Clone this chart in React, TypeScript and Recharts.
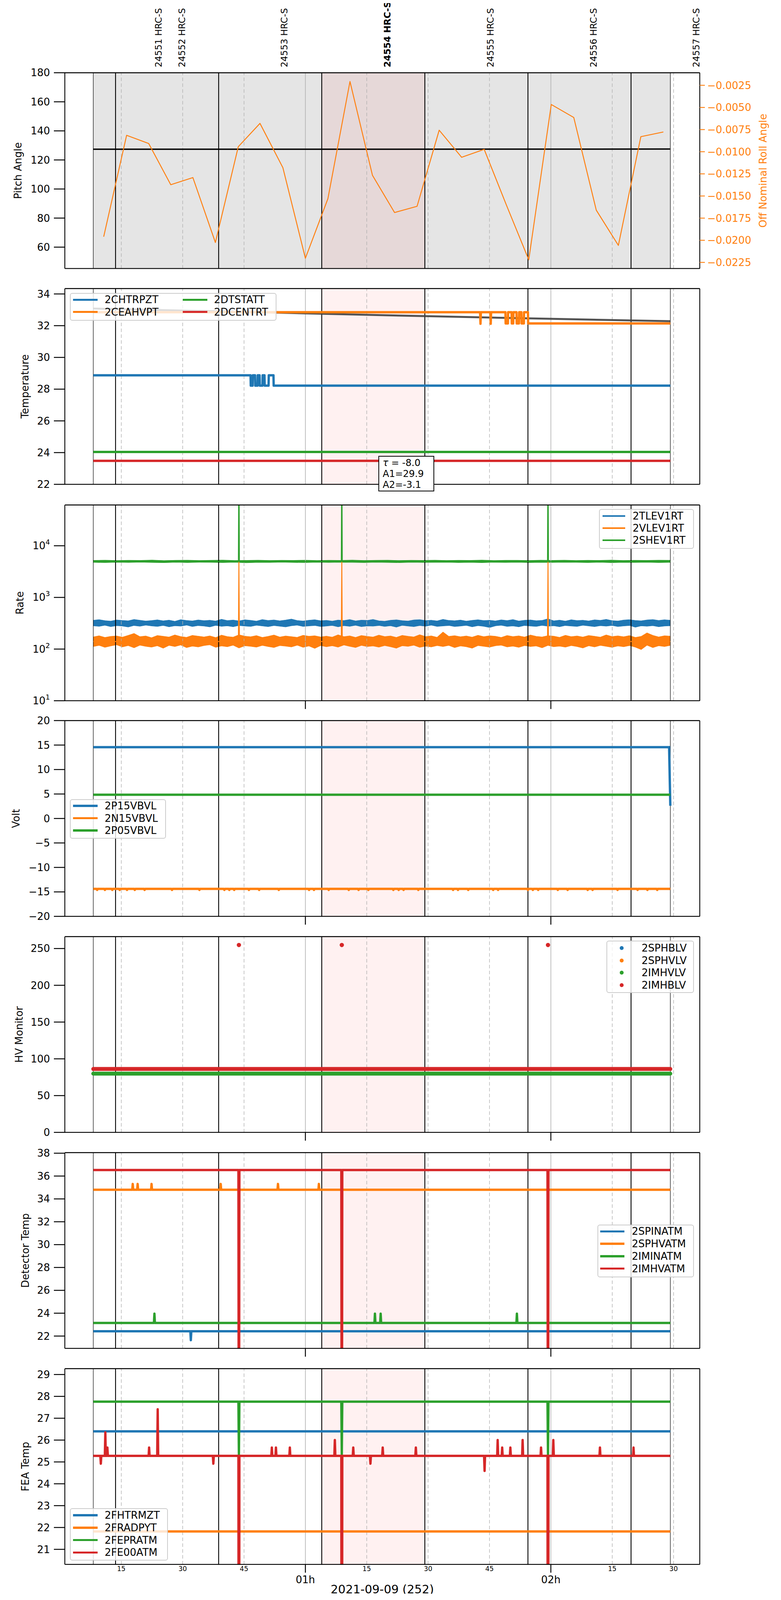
import React from 'react';
import { ComposedChart, Line, Area, Scatter, XAxis, YAxis, ReferenceLine, ReferenceArea } from 'recharts';

const FONT = '"DejaVu Sans", Verdana, sans-serif';
const FS = 26;
const BLUE = '#1f77b4';
const ORANGE = '#ff7f0e';
const GREEN = '#2ca02c';
const RED = '#d62728';

// ---------- time axis (minutes after 2021-09-09 00:00) ----------
const X_DOMAIN: [number, number] = [1.2, 156.4];
const T_START = 8.15;
const T_END = 149.2;
const EDGE_LINES = [8.15, 149.2];
const OBS_LINES = [13.6, 38.8, 64.0, 89.2, 114.4, 139.6];
const HOUR_LINES = [60, 120];
const QUARTER_LINES = [15, 30, 45, 75, 90, 105, 135, 150];
const HIGHLIGHT: [number, number] = [64.0, 89.2];
const OBS_LABEL_T = [24.1, 29.8, 54.8, 80.0, 105.2, 130.4, 155.5];
const OBS_LABELS = ['24551 HRC-S', '24552 HRC-S', '24553 HRC-S', '24554 HRC-S', '24555 HRC-S', '24556 HRC-S', '24557 HRC-S'];
const OBS_CURRENT = '24554 HRC-S';
const X_TICKS = [15, 30, 45, 60, 75, 90, 105, 120, 135, 150];
const X_TICK_LABELS = ['15', '30', '45', '01h', '15', '30', '45', '02h', '15', '30'];
const X_LABEL = '2021-09-09 (252)';
const SPIKE_HALF = 0.12;

// ---------- panel 1 : pitch / roll ----------
const PITCH: number[][] = [[8.15, 127.4], [40, 127.4], [80, 127.4], [120, 127.45], [149.2, 127.5]];
const ROLL_T = [10.7, 16.3, 21.7, 27.1, 32.5, 38.0, 43.6, 48.9, 54.5, 60.0, 65.5, 70.9, 76.4, 81.8, 87.3, 92.7, 98.2, 103.7, 109.2, 114.6, 120.1, 125.6, 131.1, 136.5, 142.0, 147.5];
const ROLL_V = [-0.0196, -0.00815, -0.00907, -0.01373, -0.01292, -0.02025, -0.00943, -0.0068, -0.0118, -0.02203, -0.01531, -0.00207, -0.01267, -0.01687, -0.01616, -0.00757, -0.01063, -0.00973, -0.0161, -0.0222, -0.00467, -0.00613, -0.0166, -0.02058, -0.0083, -0.00777];
const PITCH_DOMAIN: [number, number] = [45.3, 180];
const PITCH_TICKS = [60, 80, 100, 120, 140, 160, 180];
const ROLL_DOMAIN: [number, number] = [-0.02319, -0.00108];
const ROLL_TICKS = [-0.0025, -0.005, -0.0075, -0.01, -0.0125, -0.015, -0.0175, -0.02, -0.0225];

// ---------- panel 2 : temperature ----------
const T2_NAMES = ['2CHTRPZT', '2CEAHVPT', '2DTSTATT', '2DCENTRT'];
const CHTRPZT: number[][] = [[8.15, 28.87], [46.6, 28.87], [46.65, 28.22], [47.1, 28.22], [47.15, 28.87], [47.7, 28.87], [47.75, 28.22], [48.3, 28.22], [48.35, 28.87], [48.8, 28.87], [48.85, 28.22], [49.5, 28.22], [49.55, 28.87], [50.0, 28.87], [50.05, 28.22], [51.0, 28.22], [51.05, 28.87], [52.2, 28.87], [52.25, 28.22], [149.2, 28.22]];
const CEAHVPT: number[][] = [[8.15, 32.85], [102.7, 32.85], [102.8, 32.12], [102.9, 32.85], [105.2, 32.85], [105.3, 32.12], [105.4, 32.85], [108.9, 32.85], [108.95, 32.14], [109.5, 32.14], [109.55, 32.85], [110.4, 32.85], [110.45, 32.14], [110.8, 32.14], [110.85, 32.85], [111.6, 32.85], [111.65, 32.14], [112.2, 32.14], [112.25, 32.85], [112.8, 32.85], [112.85, 32.14], [113.4, 32.14], [113.45, 32.85], [114.4, 32.85], [114.45, 32.14], [149.2, 32.14]];
const DTSTATT = 24.04;
const DCENTRT = 23.48;
const FIT: number[][] = [[8.15, 33.08], [50, 32.84], [89.2, 32.6], [149.2, 32.28]];
const FIT_TEXT = ['-8.0', 'A1=29.9', 'A2=-3.1'];
const T2_DOMAIN: [number, number] = [22, 34.34];
const T2_TICKS = [22, 24, 26, 28, 30, 32, 34];

// ---------- panel 3 : rates ----------
const RATE_NAMES = ['2TLEV1RT', '2VLEV1RT', '2SHEV1RT'];
const TLEV_HI = [362, 371, 355, 348, 366, 359, 352, 374, 361, 349, 357, 368, 352, 363, 345, 371, 358, 350, 366, 355, 362, 349, 378, 356, 364, 351, 369, 360, 347, 372, 358, 366, 352, 364, 381, 357, 349, 362, 370, 354, 360, 347, 365, 357, 372, 351, 363, 359, 374, 352, 346, 361, 368, 355, 349, 366, 371, 357, 362, 350, 376, 359, 353, 364, 348, 360, 369, 356, 362, 351, 367, 356, 372, 349, 361, 366, 354, 359, 385, 352, 363, 348, 370, 357, 362, 351, 368, 360, 376, 355, 349, 364, 371, 358, 352, 366, 373, 358, 369, 361];
const TLEV_LO = [282, 276, 289, 272, 284, 279, 268, 286, 277, 290, 281, 274, 287, 270, 283, 278, 291, 273, 285, 279, 269, 288, 276, 282, 271, 286, 279, 274, 289, 280, 272, 285, 277, 268, 283, 290, 275, 281, 286, 273, 279, 287, 270, 284, 276, 289, 272, 281, 278, 286, 274, 283, 266, 288, 279, 272, 285, 277, 290, 275, 281, 286, 273, 279, 288, 270, 284, 276, 262, 282, 289, 275, 281, 270, 286, 279, 274, 288, 277, 283, 271, 286, 279, 275, 289, 281, 272, 284, 278, 287, 273, 280, 286, 265, 282, 277, 284, 271, 279, 283];
const VLEV_HI = [172, 181, 168, 176, 179, 170, 184, 201, 174, 179, 166, 183, 177, 171, 188, 175, 169, 184, 178, 172, 180, 167, 186, 175, 170, 189, 178, 173, 182, 168, 176, 187, 171, 179, 174, 169, 185, 177, 181, 172, 178, 170, 189, 174, 180, 168, 183, 176, 171, 186, 175, 179, 168, 184, 177, 172, 190, 175, 180, 169, 214, 176, 182, 173, 179, 170, 185, 174, 181, 177, 168, 183, 175, 180, 171, 187, 176, 172, 182, 178, 169, 185, 174, 179, 171, 183, 177, 170, 188, 175, 180, 173, 182, 168, 176, 206, 184, 172, 181, 178];
const VLEV_LO = [112, 118, 108, 115, 121, 110, 117, 106, 119, 113, 109, 116, 104, 118, 112, 120, 107, 114, 110, 117, 121, 108, 115, 111, 119, 105, 116, 113, 109, 118, 112, 107, 117, 114, 110, 119, 108, 115, 103, 117, 111, 116, 109, 120, 113, 107, 118, 112, 115, 109, 117, 111, 104, 116, 113, 119, 108, 114, 110, 117, 112, 118, 107, 115, 111, 104, 117, 113, 109, 116, 119, 110, 114, 108, 117, 112, 115, 106, 118, 111, 114, 109, 117, 112, 105, 116, 110, 118, 113, 108, 115, 111, 117, 109, 98, 119, 107, 116, 112, 118];
const SHEV_HI = [5210, 5260, 5180, 5240, 5200, 5280, 5170, 5230, 5250, 5190, 5220, 5270, 5180, 5210, 5250, 5190, 5240, 5200, 5260, 5180, 5230, 5210, 5270, 5190, 5220, 5250, 5180, 5240, 5200, 5260, 5190, 5230, 5210, 5270, 5180, 5240, 5220, 5190, 5250, 5210, 5260, 5180, 5230, 5200, 5270, 5190, 5240, 5210, 5250, 5220];
const SHEV_LO = [4760, 4720, 4790, 4740, 4810, 4750, 4700, 4780, 4730, 4800, 4760, 4720, 4790, 4680, 4770, 4740, 4810, 4750, 4720, 4790, 4740, 4800, 4760, 4730, 4780, 4750, 4710, 4790, 4740, 4770, 4800, 4730, 4760, 4710, 4780, 4750, 4790, 4720, 4770, 4740, 4800, 4760, 4730, 4780, 4710, 4770, 4750, 4790, 4730, 4760];
const VLEV_BASE = 140;
const VLEV_SPIKES: number[][] = [[43.75, 4900], [68.9, 4900], [119.3, 4900]];
const SHEV_BASE = 4950;
const SHEV_SPIKES: number[][] = [[43.75, 1000000], [68.9, 1000000], [119.3, 1000000]];
const RATE_DOMAIN: [number, number] = [10, 61600];
const RATE_TICKS = [10, 100, 1000, 10000];
const RATE_MINOR = [20, 30, 40, 50, 60, 70, 80, 90, 200, 300, 400, 500, 600, 700, 800, 900, 2000, 3000, 4000, 5000, 6000, 7000, 8000, 9000, 20000, 30000, 40000, 50000, 60000];

// ---------- panel 4 : voltages ----------
const VOLT_NAMES = ['2P15VBVL', '2N15VBVL', '2P05VBVL'];
const P15VBVL: number[][] = [[8.15, 14.56], [148.9, 14.56], [149.2, 2.6]];
const N15VBVL_BASE = -14.38;
const N15VBVL_DIPS: number[][] = [[9.1, -14.6], [11.0, -14.6], [12.8, -14.6], [14.6, -14.6], [16.4, -14.6], [18.3, -14.6], [20.7, -14.6], [27.4, -14.6], [34.1, -14.6], [40.2, -14.6], [41.4, -14.6], [42.6, -14.6], [46.2, -14.6], [48.7, -14.6], [53.5, -14.6], [60.9, -14.6], [62.1, -14.6], [65.7, -14.6], [70.6, -14.6], [73.0, -14.6], [75.4, -14.6], [81.5, -14.6], [82.8, -14.6], [84.0, -14.6], [87.6, -14.6], [96.1, -14.6], [97.3, -14.6], [99.8, -14.6], [105.9, -14.6], [107.1, -14.6], [114.4, -14.6], [115.6, -14.6], [116.9, -14.6], [121.7, -14.6], [124.1, -14.6], [129.0, -14.6], [130.2, -14.6], [136.3, -14.6], [141.2, -14.6], [143.6, -14.6], [146.0, -14.6]];
const P05VBVL = 4.86;
const VOLT_DOMAIN: [number, number] = [-20, 20];
const VOLT_TICKS = [-20, -15, -10, -5, 0, 5, 10, 15, 20];

// ---------- panel 5 : HV monitor ----------
const HV_NAMES = ['2SPHBLV', '2SPHVLV', '2IMHVLV', '2IMHBLV'];
const SPHBLV: number[][] = [];
const SPHVLV: number[][] = [];
const IMHVLV = 79.9;
const IMHBLV = 86.2;
const IMHBLV_OUTLIERS: number[][] = [[43.75, 254.8], [68.9, 254.8], [119.3, 254.8]];
const HV_DOMAIN: [number, number] = [0, 266.2];
const HV_TICKS = [0, 50, 100, 150, 200, 250];

// ---------- panel 6 : detector temperatures ----------
const DT_NAMES = ['2SPINATM', '2SPHVATM', '2IMINATM', '2IMHVATM'];
const SPINATM_BASE = 22.42;
const SPINATM_SPIKES: number[][] = [[32.0, 21.64]];
const SPHVATM_BASE = 34.8;
const SPHVATM_SPIKES: number[][] = [[17.8, 35.31], [19.0, 35.31], [22.4, 35.31], [39.3, 35.31], [53.3, 35.31], [63.3, 35.31]];
const IMINATM_BASE = 23.15;
const IMINATM_SPIKES: number[][] = [[23.1, 23.96], [77.0, 23.96], [78.4, 23.96], [111.7, 23.96]];
const IMHVATM_BASE = 36.53;
const IMHVATM_DROPS: number[][] = [[43.75, 0], [68.9, 0], [119.3, 0]];
const DT_DOMAIN: [number, number] = [20.92, 38.05];
const DT_TICKS = [22, 24, 26, 28, 30, 32, 34, 36, 38];

// ---------- panel 7 : FEA temperatures ----------
const FEA_NAMES = ['2FHTRMZT', '2FRADPYT', '2FEPRATM', '2FE00ATM'];
const FHTRMZT = 26.4;
const FRADPYT = 21.82;
const FEPRATM_BASE = 27.76;
const FEPRATM_DROPS: number[][] = [[43.75, 25.33], [68.9, 25.33], [119.3, 25.33]];
const FE00ATM_BASE = 25.28;
const FE00ATM_SPIKES: number[][] = [[10.0, 24.92], [11.1, 26.35], [11.6, 25.66], [21.8, 25.66], [23.9, 27.41], [37.5, 24.92], [51.8, 25.66], [52.8, 25.66], [56.2, 25.66], [67.2, 26.0], [71.7, 25.66], [75.9, 24.92], [78.9, 25.66], [87.0, 25.66], [103.8, 24.59], [107.0, 26.0], [108.1, 25.66], [110.1, 25.66], [113.1, 26.0], [117.6, 25.66], [120.6, 26.0], [132.0, 25.66], [140.2, 25.66]];
const FE00ATM_DROPS: number[][] = [[43.75, 0], [68.9, 0], [119.3, 0]];
const FEA_DOMAIN: [number, number] = [20.31, 29.27];
const FEA_TICKS = [21, 22, 23, 24, 25, 26, 27, 28, 29];

// ---------- layout (vertical positions in reference px, scaled to fit the captured page) ----------
const PAGE_W = 2000;
const PAGE_H = 4088;
const SY = PAGE_H / 5400;
const Y = (v: number) => Math.round(v * SY * 10) / 10;
const PANEL_TOP = [246, 976, 1707, 2437, 3167, 3898, 4628].map(Y);
const PANEL_H = Y(662);
const LEFT_W = 166;
const RIGHT_W = 208;
const YLABEL_X = [46, 64, 51, 41, 49, 65, 65];
const LW = 6;
const MARGIN = Y(34);
const LAST_BOTTOM = PAGE_H - (PANEL_TOP[6] + PANEL_H);
const TICK_LEN_X = Y(28);

// ---------- builders ----------
type Row = { t: number; v: number | null };
const rows = (pairs: number[][]): Row[] => pairs.map(([t, v]) => ({ t, v }));
const flat = (base: number): Row[] => [{ t: T_START, v: base }, { t: T_END, v: base }];
function spiky(base: number, ...lists: number[][][]): Row[] {
  const all = ([] as number[][]).concat(...lists).sort((a, b) => a[0] - b[0]);
  const out: Row[] = [{ t: T_START, v: base }];
  all.forEach(([t, v]) => {
    out.push({ t: t - SPIKE_HALF, v: base }, { t, v }, { t: t + SPIKE_HALF, v: base });
  });
  out.push({ t: T_END, v: base });
  return out;
}
const band = (lo: number[], hi: number[]) =>
  lo.map((l, i) => ({ t: T_START + (i * (T_END - T_START)) / (lo.length - 1), r: [l, hi[i]] }));
const fmtMinus = (v: number) => String(v).replace('-', '\u2212');

// ---------- shared chart pieces ----------
const AXIS_LINE = { stroke: '#000', strokeWidth: 2.2 };
const TICK_LINE = { stroke: '#000', strokeWidth: 2.4 };
const TICK_STYLE = { fontSize: FS, fill: '#000', fontFamily: FONT };

const obsLabel = (text: string) => (props: any) => {
  const vb = props.viewBox || {};
  return (
    <text
      x={0}
      y={0}
      transform={`translate(${vb.x},${vb.y - 14}) rotate(-90)`}
      textAnchor="start"
      dominantBaseline="central"
      fontSize={23}
      fontFamily={FONT}
      fontWeight={text === OBS_CURRENT ? 'bold' : 'normal'}
      fill="#000"
    >
      {text}
    </text>
  );
};

function backdrop(gray: boolean, obs: boolean) {
  const els: React.ReactElement[] = [];
  if (gray) els.push(<ReferenceArea key="gray" x1={T_START} x2={T_END} fill="#e5e5e5" fillOpacity={1} stroke="none" />);
  els.push(<ReferenceArea key="hl" x1={HIGHLIGHT[0]} x2={HIGHLIGHT[1]} fill="#ff0000" fillOpacity={0.055} stroke="none" />);
  QUARTER_LINES.forEach((t) => els.push(<ReferenceLine key={'q' + t} x={t} stroke="#b0b0b0" strokeWidth={1.4} strokeDasharray="9 6" />));
  HOUR_LINES.forEach((t) => els.push(<ReferenceLine key={'h' + t} x={t} stroke="#b0b0b0" strokeWidth={1.6} />));
  EDGE_LINES.forEach((t) => els.push(<ReferenceLine key={'e' + t} x={t} stroke="#000" strokeWidth={1.2} />));
  OBS_LINES.forEach((t) => els.push(<ReferenceLine key={'o' + t} x={t} stroke="#000" strokeWidth={2.2} />));
  if (obs) OBS_LABEL_T.forEach((t, i) => els.push(<ReferenceLine key={'lab' + i} x={t} stroke="none" label={obsLabel(OBS_LABELS[i])} />));
  return els;
}

const topFrame = (yTop: number) => <ReferenceLine key="topframe" y={yTop} stroke="#000" strokeWidth={2.4} />;

const yLabel = (text: string, cx: number, color = '#000') => (props: any) => {
  const vb = props.viewBox || {};
  const cy = vb.y + vb.height / 2;
  return (
    <text x={cx} y={cy} transform={`rotate(-90, ${cx}, ${cy})`} textAnchor="middle" dominantBaseline="central" fontSize={FS} fontFamily={FONT} fill={color}>
      {text}
    </text>
  );
};

const HourTick = (props: any) => {
  const { x, y, payload } = props;
  if (HOUR_LINES.indexOf(payload.value) < 0) return <g />;
  return <line x1={x} x2={x} y1={y} y2={y + TICK_LEN_X} stroke="#000" strokeWidth={2.4} />;
};

const FullTick = (props: any) => {
  const { x, y, payload } = props;
  const lab = X_TICK_LABELS[X_TICKS.indexOf(payload.value)] || '';
  const hour = lab.endsWith('h');
  return (
    <g>
      {hour && <line x1={x} x2={x} y1={y} y2={y + TICK_LEN_X} stroke="#000" strokeWidth={2.4} />}
      <text x={x} y={hour ? y + Y(63) : y + Y(23)} textAnchor="middle" fontSize={hour ? FS : 17} fontFamily={FONT} fill="#000">
        {lab}
      </text>
    </g>
  );
};

const LogTick = (props: any) => {
  const { x, y, payload } = props;
  const e = Math.round(Math.log10(payload.value));
  return (
    <text x={x} y={y} textAnchor="end" dominantBaseline="central" fontSize={FS} fontFamily={FONT} fill="#000">
      10<tspan dy={-10} fontSize={18}>{e}</tspan>
    </text>
  );
};

const EmptyTick = () => <g />;

const bottomAxis = (mode: 'none' | 'hours' | 'full', bottomH: number) => (
  <XAxis
    key="xb"
    dataKey="t"
    type="number"
    domain={X_DOMAIN}
    allowDataOverflow
    height={bottomH}
    ticks={mode === 'none' ? undefined : mode === 'hours' ? HOUR_LINES : X_TICKS}
    interval={0}
    tickSize={0}
    tickMargin={0}
    tickLine={false}
    axisLine={AXIS_LINE}
    tick={mode === 'none' ? false : mode === 'hours' ? HourTick : FullTick}
    label={
      mode === 'full'
        ? (p: any) => {
            const vb = p.viewBox || {};
            return (
              <text x={vb.x + vb.width / 2} y={vb.y + 74} textAnchor="middle" fontSize={30} fontFamily={FONT} fill="#000">
                {X_LABEL}
              </text>
            );
          }
        : undefined
    }
  />
);

const rightFrame = () => (
  <YAxis key="yr" yAxisId="r" orientation="right" width={RIGHT_W} domain={[0, 1]} tick={false} tickLine={false} axisLine={AXIS_LINE} />
);

const leftAxis = (domain: [number, number], ticks: number[], idx: number, text: string) => (
  <YAxis
    key="yl"
    width={LEFT_W}
    type="number"
    domain={domain}
    allowDataOverflow
    ticks={ticks}
    interval={0}
    tickSize={28}
    tickMargin={10}
    tickLine={TICK_LINE}
    axisLine={AXIS_LINE}
    tick={TICK_STYLE}
    tickFormatter={fmtMinus}
    label={yLabel(text, YLABEL_X[idx])}
  />
);

const lineEl = (key: string, data: Row[], color: string, width = LW, extra: any = {}) => (
  <Line
    key={key}
    data={data}
    dataKey="v"
    type="linear"
    stroke={color}
    strokeWidth={width}
    strokeLinejoin="round"
    dot={false}
    activeDot={false}
    isAnimationActive={false}
    {...extra}
  />
);

const bandEl = (key: string, lo: number[], hi: number[], color: string) => (
  <Area key={key} data={band(lo, hi)} dataKey="r" type="linear" stroke={color} strokeWidth={1.2} fill={color} fillOpacity={1} dot={false} activeDot={false} isAnimationActive={false} />
);

// ---------- HTML legends (positions in reference px) ----------
type LegendSpec = { box: number[]; hx: number[]; tx: number[]; ry: number[]; len: number; w: number; dot?: boolean };
function HtmlLegend({ spec, names, colors }: { spec: LegendSpec; names: string[]; colors: string[] }) {
  const nRows = spec.ry.length;
  return (
    <>
      <div
        style={{
          position: 'absolute',
          left: spec.box[0],
          top: Y(spec.box[1]),
          width: spec.box[2],
          height: Y(spec.box[3]),
          boxSizing: 'border-box',
          border: '2px solid #cccccc',
          borderRadius: 6,
          background: 'rgba(255,255,255,0.8)',
        }}
      />
      {names.map((n, k) => {
        const col = Math.floor(k / nRows);
        const cy = Y(spec.ry[k % nRows]);
        const hx = spec.hx[col];
        const tx = spec.tx[col];
        return (
          <React.Fragment key={n}>
            {spec.dot ? (
              <div style={{ position: 'absolute', left: hx - 5, top: cy - 5, width: 10, height: 10, borderRadius: '50%', background: colors[k] }} />
            ) : (
              <div style={{ position: 'absolute', left: hx, top: cy - spec.w / 2, width: spec.len, height: spec.w, background: colors[k] }} />
            )}
            <div style={{ position: 'absolute', left: tx, top: cy - 15, height: 30, lineHeight: '30px', fontFamily: FONT, fontSize: FS, whiteSpace: 'nowrap', color: '#000' }}>{n}</div>
          </React.Fragment>
        );
      })}
    </>
  );
}

const LEG_T2: LegendSpec = { box: [179, 991, 529, 93], hx: [187, 468], tx: [268, 548], ry: [1013.6, 1055], len: 63, w: 5.5 };
const LEG_RATE: LegendSpec = { box: [1534, 1721, 243, 135], hx: [1543], tx: [1620], ry: [1745, 1786, 1827], len: 58, w: 3.5 };
const LEG_VOLT: LegendSpec = { box: [179, 2702, 246, 134], hx: [187], tx: [268], ry: [2725, 2767, 2808], len: 63, w: 5.5 };
const LEG_HV: LegendSpec = { box: [1553, 3181, 224, 177], hx: [1592], tx: [1643], ry: [3206, 3247.5, 3289, 3331], len: 0, w: 0, dot: true };
const LEG_DT: LegendSpec = { box: [1530, 4141, 247, 178], hx: [1537], tx: [1618], ry: [4164, 4206, 4248, 4290], len: 62, w: 5.5 };
const LEG_FEA: LegendSpec = { box: [179, 5100, 251, 177], hx: [187], tx: [268], ry: [5124, 5166, 5208, 5250], len: 63, w: 5.5 };
const FIT_BOX = [969, 1541, 143, 115];

const Slot = ({ top, children }: { top: number; children: React.ReactNode }) => (
  <div style={{ position: 'absolute', left: 0, top }}>{children}</div>
);

export default function App() {
  const rollData = ROLL_T.map((t, i) => ({ t, v: ROLL_V[i] }));
  const m = { top: MARGIN, right: 0, bottom: 0, left: 0 };
  const midH = MARGIN + PANEL_H + MARGIN;

  return (
    <div style={{ position: 'relative', width: PAGE_W, height: PAGE_H, margin: '-8px 0 -8px -8px', overflow: 'hidden', background: '#fff', fontFamily: FONT }}>
      {/* Panel 1: pitch & roll */}
      <Slot top={0}>
        <ComposedChart width={PAGE_W} height={PANEL_TOP[0] + PANEL_H + MARGIN} margin={{ top: PANEL_TOP[0], right: 0, bottom: 0, left: 0 }}>
          {backdrop(true, true)}
          {lineEl('pitch', rows(PITCH), '#000', 3.5)}
          {lineEl('roll', rollData, ORANGE, 2.4, { yAxisId: 'roll' })}
          {topFrame(PITCH_DOMAIN[1])}
          {bottomAxis('none', MARGIN)}
          {leftAxis(PITCH_DOMAIN, PITCH_TICKS, 0, 'Pitch Angle')}
          <YAxis
            key="roll"
            yAxisId="roll"
            orientation="right"
            width={RIGHT_W}
            type="number"
            domain={ROLL_DOMAIN}
            allowDataOverflow
            ticks={ROLL_TICKS}
            interval={0}
            tickSize={13}
            tickMargin={6}
            tickLine={{ stroke: ORANGE, strokeWidth: 2.2 }}
            axisLine={AXIS_LINE}
            tick={{ fontSize: FS, fill: ORANGE, fontFamily: FONT }}
            tickFormatter={(v: number) => v.toFixed(4).replace('-', '\u2212')}
            label={yLabel('Off Nominal Roll Angle', 1954, ORANGE)}
          />
        </ComposedChart>
      </Slot>

      {/* Panel 2: temperature */}
      <Slot top={PANEL_TOP[1] - MARGIN}>
        <ComposedChart width={PAGE_W} height={midH} margin={m}>
          {backdrop(false, false)}
          {lineEl('fit', rows(FIT), '#404040', 5, { strokeOpacity: 0.9 })}
          {lineEl('chtrpzt', rows(CHTRPZT), BLUE)}
          {lineEl('ceahvpt', rows(CEAHVPT), ORANGE)}
          {lineEl('dtstatt', flat(DTSTATT), GREEN)}
          {lineEl('dcentrt', flat(DCENTRT), RED)}
          {topFrame(T2_DOMAIN[1])}
          {bottomAxis('none', MARGIN)}
          {leftAxis(T2_DOMAIN, T2_TICKS, 1, 'Temperature')}
          {rightFrame()}
        </ComposedChart>
      </Slot>

      {/* Panel 3: rates (log) */}
      <Slot top={PANEL_TOP[2] - MARGIN}>
        <ComposedChart width={PAGE_W} height={midH} margin={m}>
          {backdrop(false, false)}
          {bandEl('tlev', TLEV_LO, TLEV_HI, BLUE)}
          {bandEl('vlev', VLEV_LO, VLEV_HI, ORANGE)}
          {bandEl('shev', SHEV_LO, SHEV_HI, GREEN)}
          {lineEl('vlevsp', spiky(VLEV_BASE, VLEV_SPIKES), ORANGE, 2.4)}
          {lineEl('shevsp', spiky(SHEV_BASE, SHEV_SPIKES), GREEN, 2.4)}
          {topFrame(RATE_DOMAIN[1])}
          {bottomAxis('hours', MARGIN)}
          <YAxis key="minor" yAxisId="minor" width={0} scale="log" type="number" domain={RATE_DOMAIN} allowDataOverflow ticks={RATE_MINOR} interval={0} tickSize={9} tickMargin={0} tickLine={{ stroke: '#000', strokeWidth: 1.5 }} axisLine={false} tick={EmptyTick} />
          <YAxis
            key="yl"
            width={LEFT_W}
            scale="log"
            type="number"
            domain={RATE_DOMAIN}
            allowDataOverflow
            ticks={RATE_TICKS}
            interval={0}
            tickSize={28}
            tickMargin={10}
            tickLine={TICK_LINE}
            axisLine={AXIS_LINE}
            tick={LogTick}
            label={yLabel('Rate', YLABEL_X[2])}
          />
          {rightFrame()}
        </ComposedChart>
      </Slot>

      {/* Panel 4: volt */}
      <Slot top={PANEL_TOP[3] - MARGIN}>
        <ComposedChart width={PAGE_W} height={midH} margin={m}>
          {backdrop(false, false)}
          {lineEl('p15', rows(P15VBVL), BLUE, LW, { strokeLinejoin: 'miter' })}
          {lineEl('n15', spiky(N15VBVL_BASE, N15VBVL_DIPS), ORANGE)}
          {lineEl('p05', flat(P05VBVL), GREEN)}
          {topFrame(VOLT_DOMAIN[1])}
          {bottomAxis('hours', MARGIN)}
          {leftAxis(VOLT_DOMAIN, VOLT_TICKS, 3, 'Volt')}
          {rightFrame()}
        </ComposedChart>
      </Slot>

      {/* Panel 5: HV monitor */}
      <Slot top={PANEL_TOP[4] - MARGIN}>
        <ComposedChart width={PAGE_W} height={midH} margin={m}>
          {backdrop(false, false)}
          {lineEl('sphblv', rows(SPHBLV), BLUE, 10)}
          {lineEl('sphvlv', rows(SPHVLV), ORANGE, 10)}
          {lineEl('imhvlv', flat(IMHVLV), GREEN, 10, { strokeLinecap: 'round' })}
          {lineEl('imhblv', flat(IMHBLV), RED, 10, { strokeLinecap: 'round' })}
          <Scatter
            key="imhblv-out"
            data={rows(IMHBLV_OUTLIERS)}
            dataKey="v"
            isAnimationActive={false}
            shape={(p: any) => <circle cx={p.cx} cy={p.cy} r={5.5} fill={RED} />}
          />
          {topFrame(HV_DOMAIN[1])}
          {bottomAxis('hours', MARGIN)}
          {leftAxis(HV_DOMAIN, HV_TICKS, 4, 'HV Monitor')}
          {rightFrame()}
        </ComposedChart>
      </Slot>

      {/* Panel 6: detector temp */}
      <Slot top={PANEL_TOP[5] - MARGIN}>
        <ComposedChart width={PAGE_W} height={midH} margin={m}>
          {backdrop(false, false)}
          {lineEl('spinatm', spiky(SPINATM_BASE, SPINATM_SPIKES), BLUE)}
          {lineEl('sphvatm', spiky(SPHVATM_BASE, SPHVATM_SPIKES), ORANGE)}
          {lineEl('iminatm', spiky(IMINATM_BASE, IMINATM_SPIKES), GREEN)}
          {lineEl('imhvatm', spiky(IMHVATM_BASE, IMHVATM_DROPS), RED)}
          {topFrame(DT_DOMAIN[1])}
          {bottomAxis('hours', MARGIN)}
          {leftAxis(DT_DOMAIN, DT_TICKS, 5, 'Detector Temp')}
          {rightFrame()}
        </ComposedChart>
      </Slot>

      {/* Panel 7: FEA temp */}
      <Slot top={PANEL_TOP[6] - MARGIN}>
        <ComposedChart width={PAGE_W} height={MARGIN + PANEL_H + LAST_BOTTOM} margin={m}>
          {backdrop(false, false)}
          {lineEl('fhtrmzt', flat(FHTRMZT), BLUE)}
          {lineEl('fradpyt', flat(FRADPYT), ORANGE)}
          {lineEl('fepratm', spiky(FEPRATM_BASE, FEPRATM_DROPS), GREEN)}
          {lineEl('fe00atm', spiky(FE00ATM_BASE, FE00ATM_SPIKES, FE00ATM_DROPS), RED)}
          {topFrame(FEA_DOMAIN[1])}
          {bottomAxis('full', LAST_BOTTOM)}
          {leftAxis(FEA_DOMAIN, FEA_TICKS, 6, 'FEA Temp')}
          {rightFrame()}
        </ComposedChart>
      </Slot>

      {/* legends */}
      <HtmlLegend spec={LEG_T2} names={T2_NAMES} colors={[BLUE, ORANGE, GREEN, RED]} />
      <HtmlLegend spec={LEG_RATE} names={RATE_NAMES} colors={[BLUE, ORANGE, GREEN]} />
      <HtmlLegend spec={LEG_VOLT} names={VOLT_NAMES} colors={[BLUE, ORANGE, GREEN]} />
      <HtmlLegend spec={LEG_HV} names={HV_NAMES} colors={[BLUE, ORANGE, GREEN, RED]} />
      <HtmlLegend spec={LEG_DT} names={DT_NAMES} colors={[BLUE, ORANGE, GREEN, RED]} />
      <HtmlLegend spec={LEG_FEA} names={FEA_NAMES} colors={[BLUE, ORANGE, GREEN, RED]} />

      {/* fit annotation */}
      <div
        style={{
          position: 'absolute',
          left: FIT_BOX[0],
          top: Y(FIT_BOX[1]),
          width: FIT_BOX[2],
          height: Y(FIT_BOX[3]) + 4,
          boxSizing: 'border-box',
          border: '2px solid #000',
          background: '#fff',
          fontFamily: FONT,
          fontSize: 24,
          lineHeight: '28px',
          paddingLeft: 9,
          paddingTop: 2,
          whiteSpace: 'nowrap',
        }}
      >
        <div>
          <i>τ</i> = {FIT_TEXT[0]}
        </div>
        <div>{FIT_TEXT[1]}</div>
        <div>{FIT_TEXT[2]}</div>
      </div>
    </div>
  );
}
